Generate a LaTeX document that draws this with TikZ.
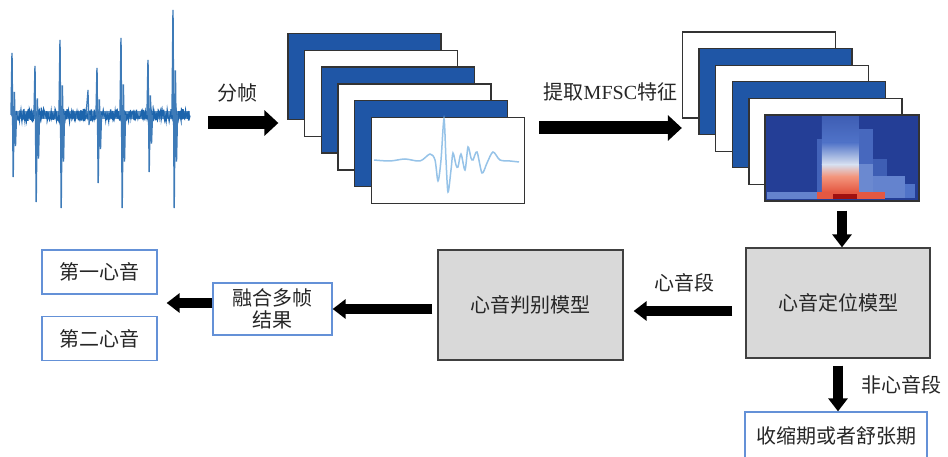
\documentclass[tikz,border=0pt]{standalone}
\usepackage{fontspec}
\setmainfont{Liberation Serif}
\newfontfamily\cjk{Noto Sans CJK SC}
\usetikzlibrary{arrows.meta,positioning,calc}
\definecolor{frblue}{RGB}{31,86,166}
\definecolor{wvblue}{RGB}{28,100,172}
\definecolor{wvlight}{RGB}{150,195,232}
\definecolor{boxblue}{RGB}{100,145,215}
\definecolor{modelgray}{RGB}{217,217,217}
\definecolor{sgblue}{RGB}{36,62,150}
\definecolor{sgmid}{RGB}{80,115,200}
\definecolor{sgpale}{RGB}{215,224,240}
\definecolor{sgsalmon}{RGB}{243,150,125}
\definecolor{sgred}{RGB}{222,62,40}
\definecolor{sgdark}{RGB}{160,16,16}
\tikzstyle{frame}=[rectangle,draw=black!80,line width=1.3pt,minimum width=153pt,minimum height=86pt,inner sep=0pt]
\tikzstyle{model}=[rectangle,draw=black!75,fill=modelgray,line width=1.3pt,minimum width=184pt,minimum height=110pt,text=black!85,font=\cjk\fontsize{20}{24}\selectfont]
\tikzstyle{result}=[rectangle,draw=boxblue,fill=white,line width=1.3pt,minimum height=44pt,text=black!85,font=\cjk\fontsize{20}{22}\selectfont]
\tikzstyle{fatarrow}=[draw,line width=10pt,-{Triangle[length=13pt,width=19pt]}]
\tikzstyle{widearrow}=[draw,line width=13pt,-{Triangle[length=14pt,width=25pt]}]
\tikzstyle{lbl}=[text=black!85,font=\cjk\fontsize{20}{24}\selectfont]

\begin{document}
\begin{tikzpicture}[x=1pt,y=-1pt]
    \useasboundingbox (0,0) rectangle (948,457);
    \pgfmathsetseed{7}
    % The heart sound recording
    \node[minimum width=182pt,minimum height=200pt,inner sep=0pt] (wave) at (100,109) {};
    \fill[wvblue!70] (12,111) rectangle (190,119);
    \draw[wvblue,line width=1.3pt] plot[domain=12:190,samples=360] (\x,{115+6*rand});
    \foreach \sx/\top/\bot in {12/53/177, 35/66/202, 60/40/208, 97/68/183, 121/38/208, 148/60/172, 173/10/208}
        \draw[wvblue!85,line width=1.4pt] (\sx-1,115) -- (\sx,\top) -- (\sx+1.2,\bot)
            -- (\sx+2.4,{(\top+115)/2+8}) -- (\sx+3.5,{(\bot+115)/2}) -- (\sx+4.5,115);
    \draw[wvblue!85,line width=1.2pt] (86,115) -- (88,90) -- (89,125) -- (90,115);

    % First we draw the frames
    \foreach \i/\col in {1/frblue,2/white,3/frblue,4/white,5/frblue,6/white}
        \node[frame,fill=\col] (fr\i) at ({364.5+(\i-1)*16.7},{76.5+(\i-1)*16.8}) {};
    \draw[wvlight,line width=1.5pt] plot[smooth,tension=0.5] coordinates {
        (374,160) (390,161) (405,159) (420,161) (430,154) (435,160) (438,181) (441,160)
        (444,119) (446,160) (448,192) (451,170) (453,153) (456,165) (458,167) (461,154)
        (465,170) (468,147) (471,158) (473,160) (477,152) (482,173) (487,163) (493,152)
        (500,160) (510,161) (519,162)};

    \foreach \i/\col in {1/white,2/frblue,3/white,4/frblue,5/white,6/sgblue}
        \node[frame,fill=\col] (sp\i) at ({759+(\i-1)*16.6},{75+(\i-1)*16.6}) {};
    % the MFSC map
    \begin{scope}[shift={(sp6.north west)}]
        \fill[sgmid!70!sgblue] (52,25) rectangle (57,84);
        \fill[sgmid!80!sgblue] (94,15) rectangle (108,50);
        \fill[sgmid!80!sgpale] (94,50) rectangle (108,84);
        \fill[sgmid!60!sgblue] (108,45) rectangle (122,62);
        \fill[sgmid!85!sgpale] (108,62) rectangle (140,84);
        \fill[sgmid] (140,70) rectangle (150,84);
        \shade[top color=sgmid!60!sgblue,bottom color=sgmid] (57,2) rectangle (94,28);
        \shade[top color=sgmid,bottom color=sgpale] (57,28) rectangle (94,50);
        \shade[top color=sgpale,bottom color=sgsalmon] (57,50) rectangle (94,62);
        \shade[top color=sgsalmon,bottom color=sgred] (57,62) rectangle (94,84);
        \fill[sgmid!85!sgpale] (2,78) rectangle (52,85);
        \fill[sgred!70!sgsalmon] (52,78) rectangle (120,85);
        \fill[sgdark] (68,80) rectangle (92,85);
    \end{scope}
    \draw[black!80,line width=1.3pt] (sp6.south west) rectangle (sp6.north east);

    % Then the models and the results
    \node[model] (locate) at (838,303) {心音定位模型};
    \node[model,minimum width=185pt] (judge) at (530.5,305) {心音判别模型};
    \node[result,minimum width=182pt,minimum height=48pt] (phase) at (836,436) {收缩期或者舒张期};
    \node[result,minimum width=119pt,minimum height=52pt,align=center] (fuse) at (272.5,309) {融合多帧\\结果};
    \node[result,minimum width=115pt] (first) at (99.5,272) {第一心音};
    \node[result,minimum width=115pt] (second) at (99.5,338.5) {第二心音};

    % Connect them with arrows
    \coordinate (cutA) at (208,123);
    \coordinate (cutB) at (539,128);
    \coordinate (segA) at ([yshift=-8pt]locate.west);
    \coordinate (fuseout) at ([yshift=6pt]fuse.west);
    \draw[widearrow,shorten >=9pt] (cutA) -- node[lbl,above=11pt,xshift=-10pt] {分帧} (cutA -| fr1.west);
    \draw[widearrow] (cutB) -- node[lbl,above=17pt] {提取{\rmfamily MFSC}特征} (cutB -| sp1.west);
    \draw[fatarrow,shorten <=9pt] (sp6.south) -- (sp6.south |- locate.north);
    \draw[fatarrow,shorten <=13pt,shorten >=10pt] (segA) -- node[lbl,above=10pt] {心音段} (segA -| judge.east);
    \draw[fatarrow,shorten <=5pt] (judge.west |- fuse.east) -- (fuse.east);
    \draw[fatarrow,shorten >=9pt] (fuseout) -- (fuseout -| first.east);
    \draw[fatarrow,shorten <=7pt] (locate.south) -- node[lbl,right=15pt] {非心音段} (locate.south |- phase.north);
\end{tikzpicture}
\end{document}
